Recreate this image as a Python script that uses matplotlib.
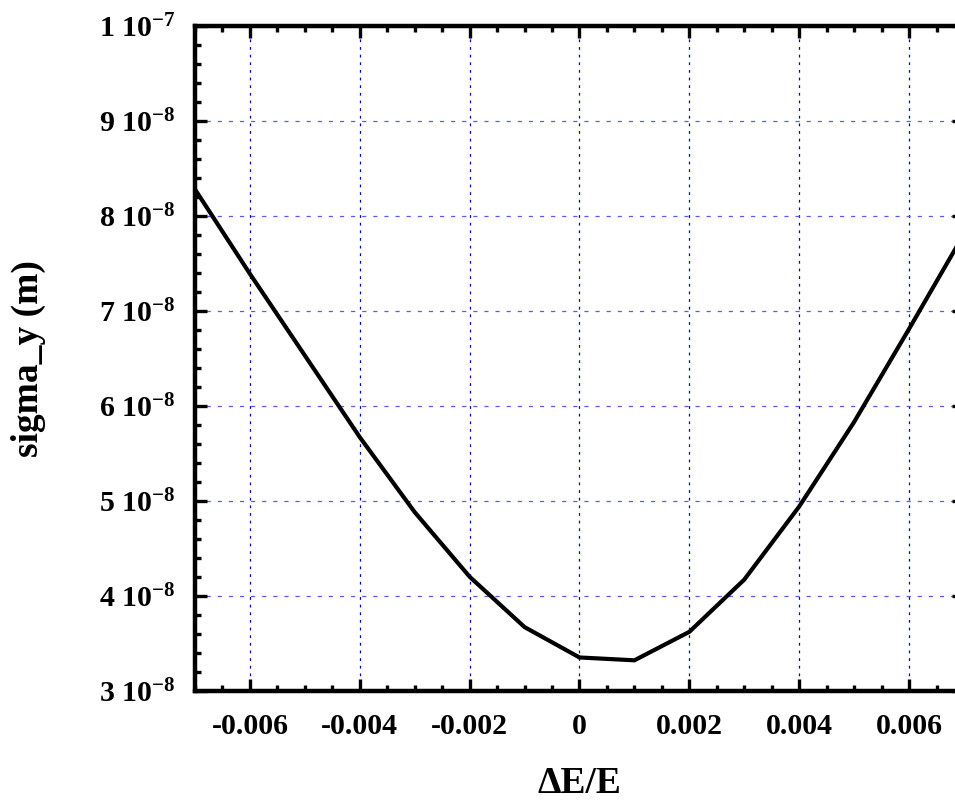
import matplotlib
matplotlib.use("Agg")
import matplotlib.pyplot as plt
from matplotlib.ticker import MultipleLocator, FixedLocator, FixedFormatter

# ---- data ----
de_over_e = [-0.007, -0.006, -0.005, -0.004, -0.003, -0.002, -0.001,
             0.0, 0.001, 0.002, 0.003, 0.004, 0.005, 0.006, 0.007]
sigma_y = [8.28e-8, 7.39e-8, 6.53e-8, 5.67e-8, 4.88e-8, 4.20e-8, 3.67e-8,
           3.35e-8, 3.32e-8, 3.62e-8, 4.17e-8, 4.94e-8, 5.83e-8, 6.81e-8, 7.81e-8]

x_ticks = [-0.006, -0.004, -0.002, 0.0, 0.002, 0.004, 0.006]
x_ticklabels = ["-0.006", "-0.004", "-0.002", "0", "0.002", "0.004", "0.006"]
y_ticks = [3e-8, 4e-8, 5e-8, 6e-8, 7e-8, 8e-8, 9e-8, 1e-7]
y_ticklabels = ["3 10$^{-8}$", "4 10$^{-8}$", "5 10$^{-8}$", "6 10$^{-8}$",
                "7 10$^{-8}$", "8 10$^{-8}$", "9 10$^{-8}$", "1 10$^{-7}$"]

plt.rcParams["font.family"] = ["Liberation Serif", "DejaVu Serif"]
plt.rcParams["font.weight"] = "bold"
plt.rcParams["mathtext.default"] = "regular"
plt.rcParams["lines.scale_dashes"] = False

fig = plt.figure(figsize=(9.55, 8.01), dpi=100)
# right edge of the frame sits just past the picture edge, as in the reference
ax = fig.add_axes([0.2042, 0.1377, 1.0094 - 0.2042, 0.9675 - 0.1377])

# grid
for xv in x_ticks:
    ax.axvline(xv, color="#0000cc", lw=0.9, dashes=(2, 3.5), zorder=1)
for yv in y_ticks[1:-1]:
    ax.axhline(yv, color="#5a5af0", lw=0.9, dashes=(3, 5), zorder=1)

ax.plot(de_over_e, sigma_y, color="black", lw=3.0, zorder=3,
        solid_joinstyle="miter")

ax.set_xlim(-0.007, 0.007)
ax.set_ylim(3e-8, 1e-7)

ax.xaxis.set_major_locator(FixedLocator(x_ticks))
ax.xaxis.set_major_formatter(FixedFormatter(x_ticklabels))
ax.xaxis.set_minor_locator(MultipleLocator(0.0005))
ax.yaxis.set_major_locator(FixedLocator(y_ticks))
ax.yaxis.set_major_formatter(FixedFormatter(y_ticklabels))
ax.yaxis.set_minor_locator(MultipleLocator(2e-9))

ax.tick_params(which="both", direction="in", top=True, right=True, width=2.4)
ax.tick_params(which="major", length=8.5)
ax.tick_params(which="minor", length=4.5)
ax.tick_params(axis="x", which="major", labelsize=21.5, pad=16)
ax.tick_params(axis="y", which="major", labelsize=21.5, pad=14)
for s in ax.spines.values():
    s.set_linewidth(3.2)

ax.set_xlabel("ΔE/E", fontsize=27, fontweight="bold", labelpad=19)
ax.set_ylabel("sigma_y (m)", fontsize=27, fontweight="bold", labelpad=38)

fig.savefig("out.png", dpi=100)
